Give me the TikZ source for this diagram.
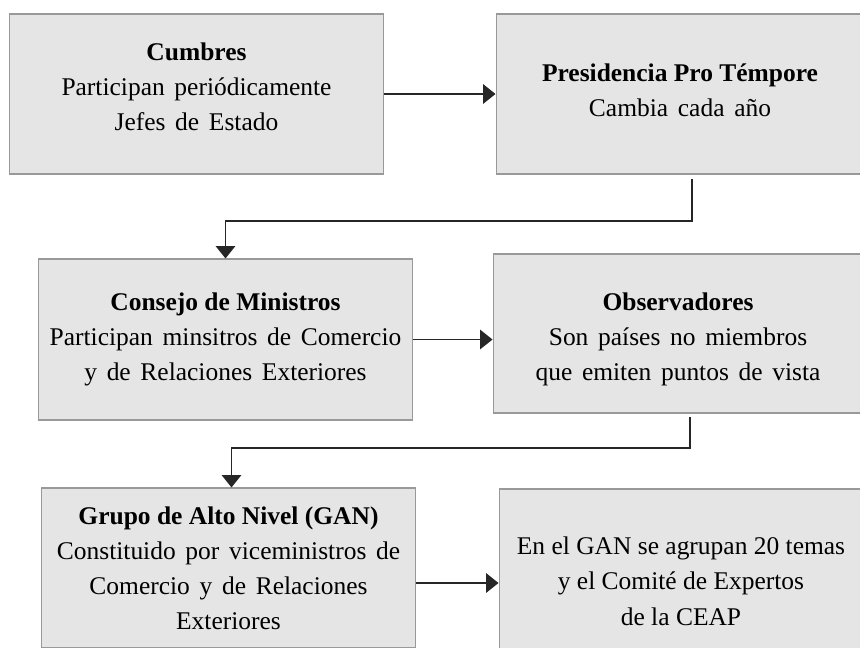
\documentclass[tikz,border=0pt]{standalone}
\usepackage{fontspec}
\setmainfont{Liberation Serif}
\usetikzlibrary{arrows.meta}

\newcommand{\ancho}{\spaceskip=0.38em plus 0.1em\relax}

\tikzset{
  organo/.style = {draw=black!40, fill=black!10, line width=0.6pt, align=center,
    inner sep=0pt, font=\fontsize{14.5}{20}\selectfont},
  enlace/.style = {draw=black!85, line width=0.75pt},
  flecha/.style = {enlace, -{Triangle[length=7pt,width=11pt]}}
}

\begin{document}
\begin{tikzpicture}[x=0.02cm, y=-0.02cm]

\useasboundingbox (0,0) rectangle (860,647);
\clip (0,0) rectangle (860,647);

%% boxes
\node[organo, minimum width=7.5cm, minimum height=3.2cm] (cumbres) at (196.5, 94)
  {\textbf{Cumbres}\\ \ancho Participan periódicamente\\ \ancho Jefes de Estado\rule[-8pt]{0pt}{0pt}};
\node[organo, minimum width=7.36cm, minimum height=3.2cm] (presid) at (680, 94)
  {\textbf{Presidencia Pro Témpore}\\ \ancho Cambia cada año\rule[-4pt]{0pt}{0pt}};
\node[organo, minimum width=7.5cm, minimum height=3.22cm] (consejo) at (225.5, 339.5)
  {\textbf{Consejo de Ministros}\\ \ancho Participan minsitros de Comercio\\ \ancho y de Relaciones Exteriores};
\node[organo, minimum width=7.4cm, minimum height=3.18cm] (observ) at (678, 333.5)
  {\rule{0pt}{17pt}\textbf{Observadores}\\ \ancho Son países no miembros\\ \ancho que emiten puntos de vista};
\node[organo, minimum width=7.5cm, minimum height=3.2cm] (gan) at (228.5, 568)
  {\textbf{Grupo de Alto Nivel (GAN)}\\ \ancho Constituido por viceministros de\\ \ancho Comercio y de Relaciones\\ Exteriores};
\node[organo, minimum width=7.28cm, minimum height=3.2cm] (engan) at (681, 569)
  {\rule{0pt}{24pt}En el GAN se agrupan 20 temas\\ y el Comité de Expertos\\ de la CEAP};

%% bends
\coordinate (b1) at (692, 221);
\coordinate (b2) at (690, 448);
\coordinate (g3) at ([yshift=-0.3cm]gan.east);

%% connectors
\draw[flecha] (cumbres.east) -- (cumbres.east -| presid.west);
\draw[flecha] (consejo.east) -- (consejo.east -| observ.west);
\draw[flecha] (g3) -- (g3 -| engan.west);
\draw[flecha] ([yshift=-0.08cm]presid.south -| b1) -- (b1) -| (consejo.north);
\draw[flecha] ([yshift=-0.06cm]observ.south -| b2) -- (b2) -| ([xshift=0.06cm]gan.north);

\end{tikzpicture}
\end{document}
